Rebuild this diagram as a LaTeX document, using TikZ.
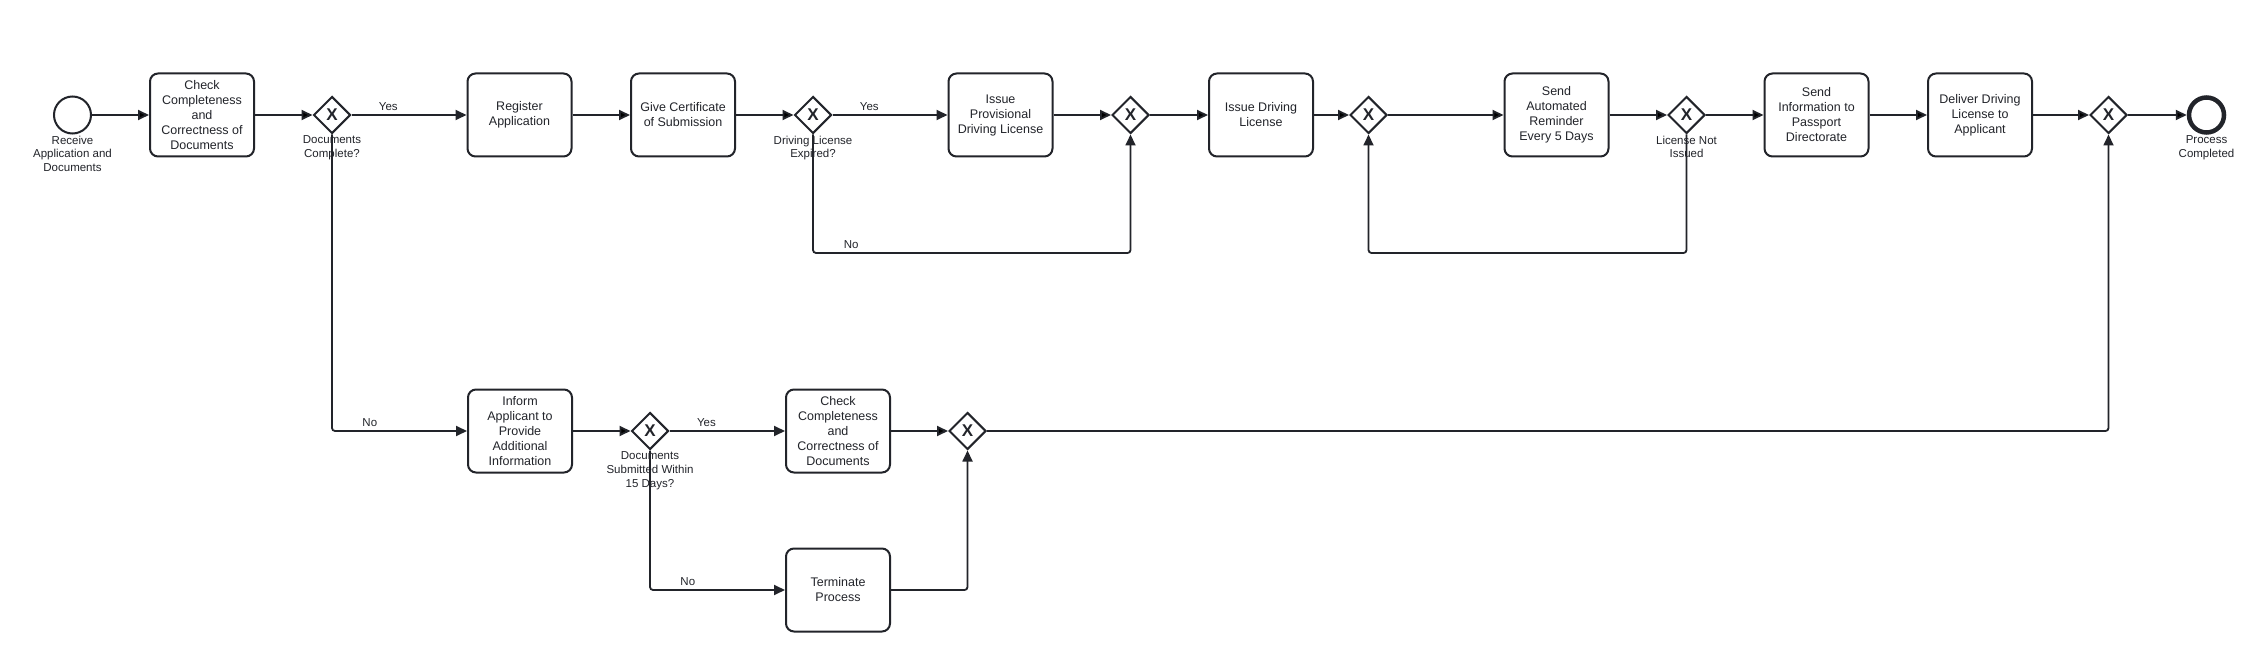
\documentclass[tikz,border=0pt]{standalone}
\usepackage{fontspec}
\setmainfont{Liberation Sans}
\usetikzlibrary{shapes.geometric,arrows.meta}
\definecolor{ink}{HTML}{22242A}
\tikzstyle{task}=[draw=ink,line width=2pt,rounded corners=8pt,minimum width=104pt,minimum height=83pt,align=center,text=ink,inner sep=2pt,font=\fontsize{12.5}{15}\selectfont]
\tikzstyle{gw}=[diamond,draw=ink,line width=2pt,fill=white,minimum size=37pt,inner sep=0,text=ink,font=\fontsize{17}{17}\selectfont\bfseries]
\tikzstyle{ev}=[circle,draw=ink,line width=2pt,minimum size=37pt,inner sep=0]
\tikzstyle{endev}=[circle,draw=ink,line width=4.5pt,minimum size=35pt,inner sep=0]
\tikzstyle{lbl}=[text=ink,align=center,inner sep=1pt,font=\fontsize{11.5}{13.8}\selectfont]
\tikzstyle{flow}=[draw=ink,line width=1.8pt,rounded corners=3pt,-{Triangle[length=11pt,width=10pt]}]

\begin{document}
\begin{tikzpicture}[x=1pt,y=-1pt]
    \fill[white] (0,0) rectangle (2244,668);
    \useasboundingbox (0,0) rectangle (2244,668);

                        % main row
                        \node[ev] (start) at (72.5,115) {};
                        \node[task] (check) at (202,115) {Check\\Completeness\\and\\Correctness of\\Documents};
                        \node[gw] (g1) at (332,115) {X};
                        \node[task] (register) at (519.5,115) {Register\\Application};
                        \node[task] (cert) at (683,115) {Give Certificate\\of Submission};
                        \node[gw] (g2) at (813,115) {X};
                        \node[task] (prov) at (1000.5,115) {Issue\\Provisional\\Driving License};
                        \node[gw] (g3) at (1130.5,115) {X};
                        \node[task] (issue) at (1261,115) {Issue Driving\\License};
                        \node[gw] (g4) at (1368.5,115) {X};
                        \node[task] (remind) at (1556.5,115) {Send\\Automated\\Reminder\\Every 5 Days};
                        \node[gw] (g5) at (1686.5,115) {X};
                        \node[task] (info) at (1816.5,115) {Send\\Information to\\Passport\\Directorate};
                        \node[task] (deliver) at (1980,115) {Deliver Driving\\License to\\Applicant};
                        \node[gw] (g6) at (2108.5,115) {X};
                        \node[endev] (done) at (2206.5,115) {};

                        % lower rows
                        \node[task] (inform) at (520,431) {Inform\\Applicant to\\Provide\\Additional\\Information};
                        \node[gw] (g7) at (650,431) {X};
                        \node[task] (recheck) at (838,431) {Check\\Completeness\\and\\Correctness of\\Documents};
                        \node[gw] (g8) at (967.5,431) {X};
                        \node[task] (stop) at (838,590) {Terminate\\Process};

                        % labels
                        \node[lbl,anchor=north] (startl) at (start.south) {Receive\\Application and\\Documents};
                        \node[lbl,anchor=north] (g1l) at (g1.south) {Documents\\Complete?};
                        \node[lbl,anchor=north] (g2l) at (g2.south) {Driving License\\Expired?};
                        \node[lbl,anchor=north] (g5l) at (g5.south) {License Not\\Issued};
                        \node[lbl,anchor=north] (donel) at (done.south) {Process\\Completed};
                        \node[lbl,anchor=north] (g7l) at (g7.south) {Documents\\Submitted Within\\15 Days?};

                        \draw[flow]
                        (start) edge (check)
                        (check) edge (g1)
                        (register) edge (cert)
                        (cert) edge (g2)
                        (prov) edge (g3)
                        (g3) edge (issue)
                        (issue) edge (g4)
                        (g4) edge (remind)
                        (remind) edge (g5)
                        (g5) edge (info)
                        (info) edge (deliver)
                        (deliver) edge (g6)
                        (g6) edge (done)
                        (inform) edge (g7)
                        (recheck) edge (g8)
                        ;

                        \draw[flow] (g1) -- node[lbl,above=2pt,pos=0.32] (yes1) {Yes} (register);
                        \draw[flow] (g2) -- node[lbl,above=2pt,pos=0.32] (yes2) {Yes} (prov);
                        \draw[flow] (g7) -- node[lbl,above=2pt,pos=0.32] (yes3) {Yes} (recheck);
                        \draw[flow] (g2) -- ++(0,138) -| node[lbl,above=2pt,pos=0.06] (no2) {No} (g3);
                        \draw[flow] (g5) -- ++(0,138) -| (g4);
                        \draw[flow] (g1) |- node[lbl,above=2pt,pos=0.64] (no1) {No} (inform);
                        \draw[flow] (g7) |- node[lbl,above=2pt,pos=0.64] (no3) {No} (stop);
                        \draw[flow] (stop) -| (g8);
                        \draw[flow] (g8) -| (g6);

    \end{tikzpicture}
\end{document}
